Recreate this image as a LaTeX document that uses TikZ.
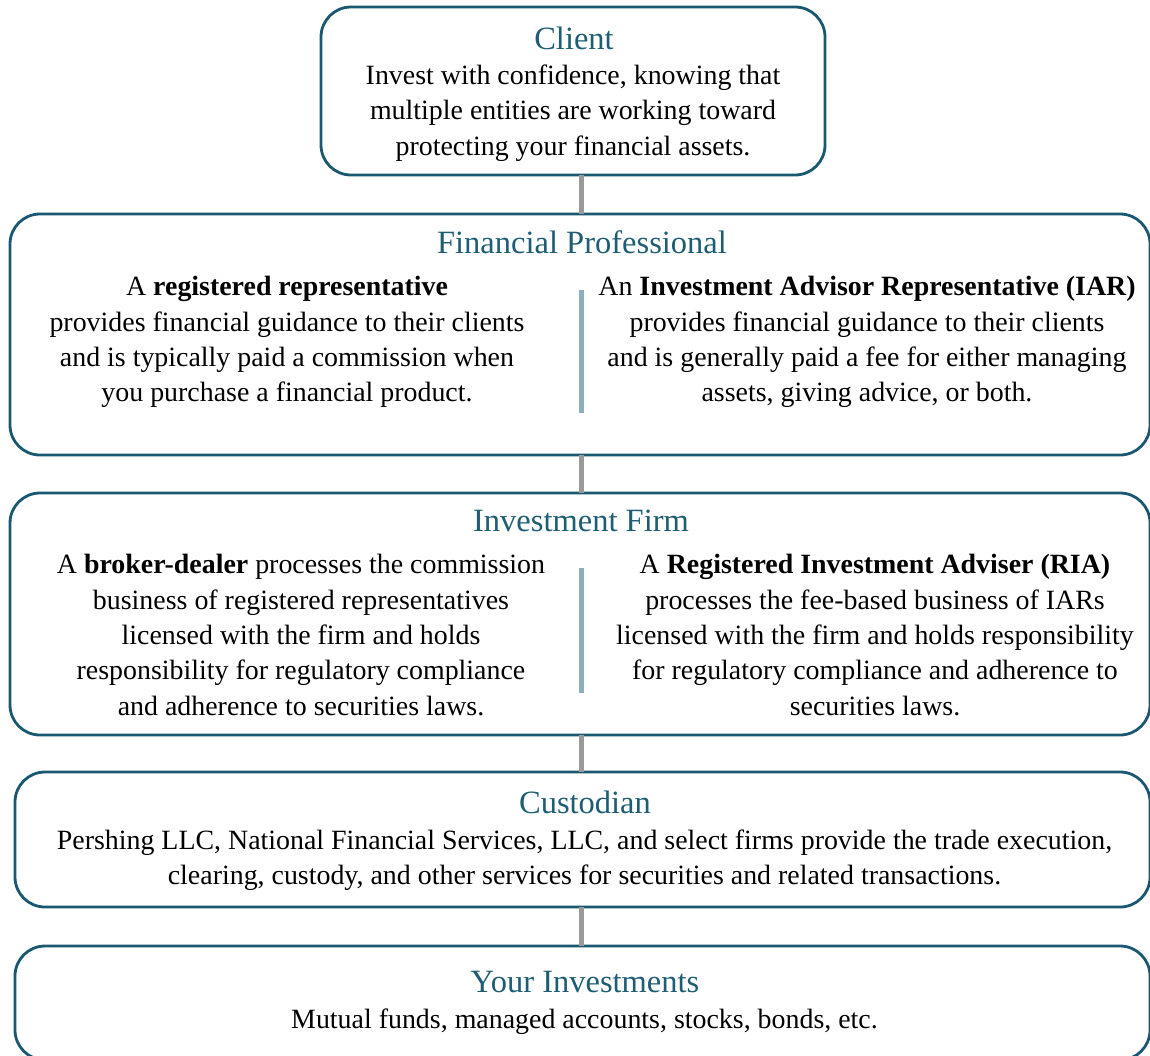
\documentclass[tikz,border=0pt]{standalone}
\usepackage{fontspec}
\setmainfont{Liberation Serif}
\definecolor{boxc}{HTML}{1A5770}
\definecolor{titlec}{HTML}{1E5D74}
\definecolor{connc}{HTML}{9A9A9A}
\definecolor{divc}{HTML}{8EAEBC}
\begin{document}
\begin{tikzpicture}[x=1pt,y=-1pt,
  box/.style={draw=boxc, line width=2.8pt, rounded corners=30pt, inner sep=0pt, outer sep=0pt},
  conn/.style={draw=connc, line width=5pt},
  divline/.style={draw=divc, line width=5pt},
  title/.style={text=titlec, font=\fontsize{32.5}{37}\selectfont, inner sep=0pt},
  body/.style={font=\fontsize{27.9}{35.3}\selectfont, align=center, inner sep=0pt}]
\useasboundingbox (0,0) rectangle (1150,1055);
% boxes
\node[box, minimum width=504pt, minimum height=168pt] (client) at (573,91) {};
\node[box, minimum width=1140pt, minimum height=241pt] (fp) at (580,334.5) {};
\node[box, minimum width=1140pt, minimum height=242pt] (inv) at (580,614) {};
\node[box, minimum width=1135pt, minimum height=135pt] (cust) at (582.5,839.5) {};
\node[box, minimum width=1135pt, minimum height=114pt] (yi) at (582.5,1003) {};
% connectors
\coordinate (cx) at (581,0);
\draw[conn] (client.south -| cx) -- (fp.north -| cx);
\draw[conn] (fp.south -| cx) -- (inv.north -| cx);
\draw[conn] (inv.south -| cx) -- (cust.north -| cx);
\draw[conn] (cust.south -| cx) -- (yi.north -| cx);
% dividers
\coordinate (d1a) at (581,290);
\coordinate (d1b) at (581,413);
\coordinate (d2a) at (581,568);
\coordinate (d2b) at (581,693);
\draw[divline] (d1a) -- (d1b);
\draw[divline] (d2a) -- (d2b);
% texts
\node[title] (clientT) at (574,38) {Client};
\node[body] (clientB) at (573,113) {Invest with confidence, knowing that\\multiple entities are working toward\\protecting your financial assets.};
\node[title] (fpT) at (582,242) {Financial Professional};
\node[body] (fpL) at (287,342) {A \textbf{registered representative}\\provides financial guidance to their clients\\and is typically paid a commission when\\you purchase a financial product.};
\node[body] (fpR) at (867,342) {An \textbf{Investment Advisor Representative (IAR)}\\provides financial guidance to their clients\\and is generally paid a fee for either managing\\assets, giving advice, or both.};
\node[title] (invT) at (581,521) {Investment Firm};
\node[body] (invL) at (301,635) {A \textbf{broker-dealer} processes the commission\\business of registered representatives\\licensed with the firm and holds\\responsibility for regulatory compliance\\and adherence to securities laws.};
\node[body] (invR) at (875,635) {A \textbf{Registered Investment Adviser (RIA)}\\processes the fee-based business of IARs\\licensed with the firm and holds responsibility\\for regulatory compliance and adherence to\\securities laws.};
\node[title] (custT) at (585,802) {Custodian};
\node[body] (custB) at (584.5,860.5) {Pershing LLC, National Financial Services, LLC, and select firms provide the trade execution,\\clearing, custody, and other services for securities and related transactions.};
\node[title] (yiT) at (585,982) {Your Investments};
\node[body] (yiB) at (584.5,1022) {Mutual funds, managed accounts, stocks, bonds, etc.};
\end{tikzpicture}
\end{document}
